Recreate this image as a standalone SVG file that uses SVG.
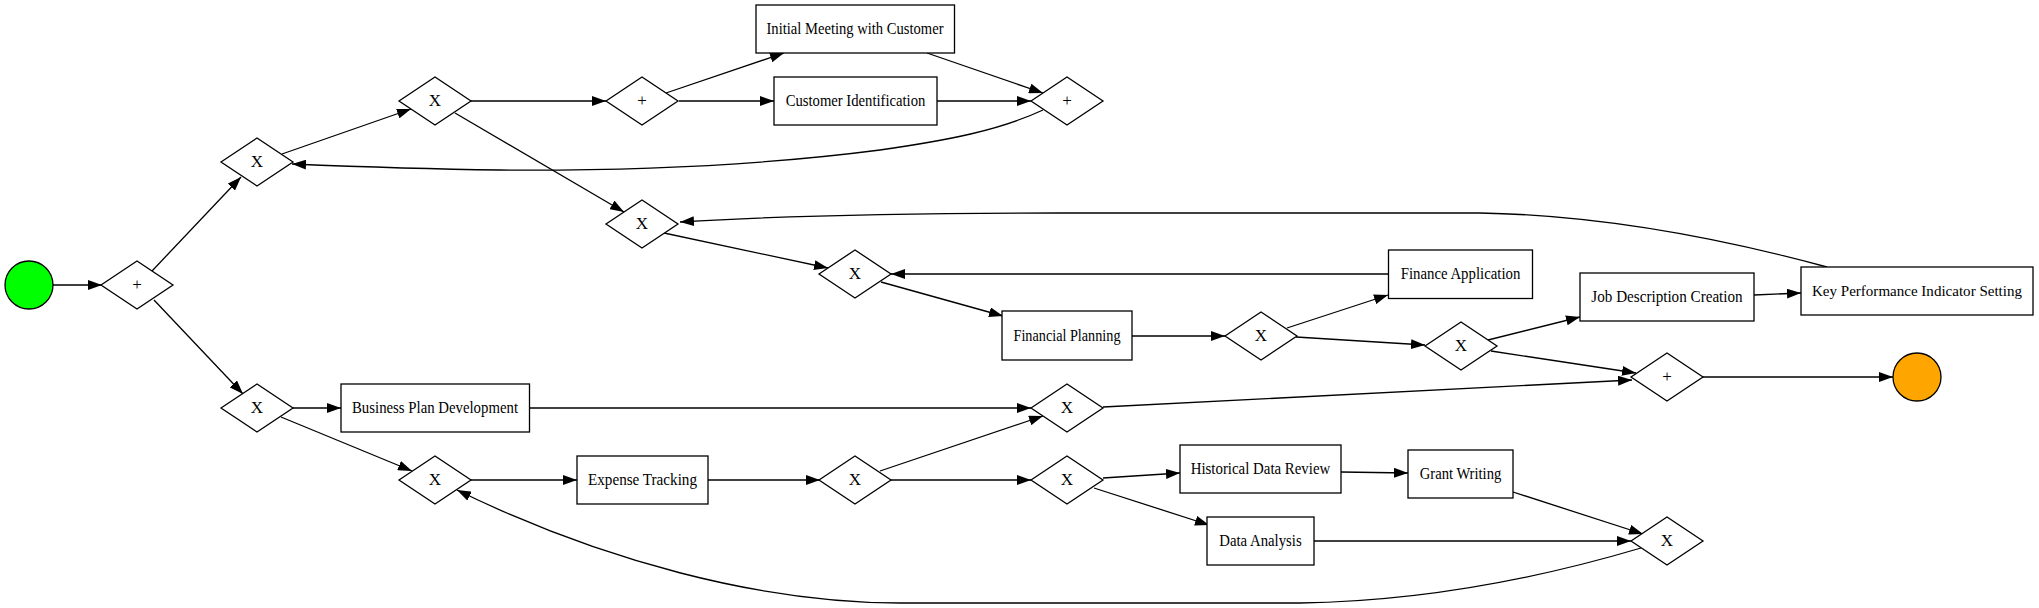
<svg xmlns="http://www.w3.org/2000/svg" width="2039" height="608" viewBox="0 0 2039 608">
<defs>
<marker id="ah" markerUnits="userSpaceOnUse" markerWidth="14" markerHeight="10" refX="14" refY="5" orient="auto">
<path d="M0,0 L14,5 L0,10 z" fill="#000"/>
</marker>
</defs>
<style>
.e{fill:none;stroke:#000;stroke-width:1.3;marker-end:url(#ah)}
.t{fill:#fff;stroke:#000;stroke-width:1.3}
.g{fill:#fff;stroke:#000;stroke-width:1.3}
text{font-family:"Liberation Serif","Times New Roman",serif;font-size:17px;fill:#000;text-anchor:middle}
.gl{font-size:17px}
.sm{font-size:15.5px}
</style>
<rect width="2039" height="608" fill="#fff"/>
<g id="connectors">
<path class="e" d="M53,285 L102,285"/>
<path class="e" d="M152,271 L241,177"/>
<path class="e" d="M154,300 L243,394"/>
<path class="e" d="M282,154 L411,109"/>
<path class="e" d="M471,101 L606,101"/>
<path class="e" d="M455,113 L624,212"/>
<path class="e" d="M666,93 L784,53"/>
<path class="e" d="M679,101 L774,101"/>
<path class="e" d="M927,53 L1043,93"/>
<path class="e" d="M937,101 L1031,101"/>
<path class="e" d="M1043,110 C1000,130 950,140 880,150 C780,163 650,171 500,170 C420,169 340,166 292,164"/>
<path class="e" d="M664,233 L828,268"/>
<path class="e" d="M1827,267 C1720,238 1600,215 1480,213 L1060,213 C900,213 760,217 680,222"/>
<path class="e" d="M881,282 L1003,316"/>
<path class="e" d="M1388,274 L891,274"/>
<path class="e" d="M1132,336 L1225,336"/>
<path class="e" d="M1287,328 L1388,295"/>
<path class="e" d="M1296,337 L1425,345"/>
<path class="e" d="M1488,340 L1580,317"/>
<path class="e" d="M1754,295 L1801,293"/>
<path class="e" d="M1491,351 L1636,373"/>
<path class="e" d="M1103,407 L1632,380"/>
<path class="e" d="M1703,377 L1893,377"/>
<path class="e" d="M293,408 L341,408"/>
<path class="e" d="M281,417 L412,471"/>
<path class="e" d="M529,408 L1031,408"/>
<path class="e" d="M471,480 L577,480"/>
<path class="e" d="M708,480 L820,480"/>
<path class="e" d="M880,471 L1043,416"/>
<path class="e" d="M891,480 L1031,480"/>
<path class="e" d="M1103,478 L1180,473"/>
<path class="e" d="M1094,488 L1209,525"/>
<path class="e" d="M1341,472 L1408,473"/>
<path class="e" d="M1513,492 L1643,534"/>
<path class="e" d="M1314,541 L1631,541"/>
<path class="e" d="M1641,548 C1560,572 1440,601 1300,603 L900,603 C760,603 600,560 457,490"/>
</g>
<g id="start"><circle cx="29" cy="285" r="24" fill="#00ff00" stroke="#000" stroke-width="1.3"/></g>
<g id="P1"><polygon class="g" points="101,285 137,261 173,285 137,309"/><text class="gl" x="137" y="290">+</text></g>
<g id="G2"><polygon class="g" points="221,162 257,138 293,162 257,186"/><text class="gl" x="257" y="167">X</text></g>
<g id="G3"><polygon class="g" points="399,101 435,77 471,101 435,125"/><text class="gl" x="435" y="106">X</text></g>
<g id="P2"><polygon class="g" points="606,101 642,77 678,101 642,125"/><text class="gl" x="642" y="106">+</text></g>
<g id="G4"><polygon class="g" points="606,224 642,200 678,224 642,248"/><text class="gl" x="642" y="229">X</text></g>
<g id="initialMeeting"><rect class="t" x="756" y="5" width="198.5" height="48"/><text x="855" y="34" textLength="177" lengthAdjust="spacingAndGlyphs">Initial Meeting with Customer</text></g>
<g id="customerIdentification"><rect class="t" x="774" y="77" width="163" height="48"/><text x="855.5" y="106" textLength="139.6" lengthAdjust="spacingAndGlyphs">Customer Identification</text></g>
<g id="P3"><polygon class="g" points="1031,101 1067,77 1103,101 1067,125"/><text class="gl" x="1067" y="106">+</text></g>
<g id="G5"><polygon class="g" points="819,274 855,250 891,274 855,298"/><text class="gl" x="855" y="279">X</text></g>
<g id="financeApplication"><rect class="t" x="1388.5" y="250" width="144" height="48.5"/><text x="1460.5" y="279" textLength="119.7" lengthAdjust="spacingAndGlyphs">Finance Application</text></g>
<g id="financialPlanning"><rect class="t" x="1002" y="311" width="130" height="49"/><text x="1067" y="340.5" textLength="107" lengthAdjust="spacingAndGlyphs">Financial Planning</text></g>
<g id="G8"><polygon class="g" points="1225,336 1261,312 1297,336 1261,360"/><text class="gl" x="1261" y="341">X</text></g>
<g id="jobDescription"><rect class="t" x="1580" y="273" width="174" height="48"/><text x="1667" y="302" textLength="151.3" lengthAdjust="spacingAndGlyphs">Job Description Creation</text></g>
<g id="kpiSetting"><rect class="t" x="1801" y="267" width="232" height="48"/><text class="sm" x="1917" y="296" textLength="210" lengthAdjust="spacingAndGlyphs">Key Performance Indicator Setting</text></g>
<g id="G12"><polygon class="g" points="1425,346 1461,322 1497,346 1461,370"/><text class="gl" x="1461" y="351">X</text></g>
<g id="P4"><polygon class="g" points="1631,377 1667,353 1703,377 1667,401"/><text class="gl" x="1667" y="382">+</text></g>
<g id="end"><circle cx="1917" cy="377" r="24" fill="#ffa500" stroke="#000" stroke-width="1.3"/></g>
<g id="G6"><polygon class="g" points="221,408 257,384 293,408 257,432"/><text class="gl" x="257" y="413">X</text></g>
<g id="businessPlan"><rect class="t" x="341" y="384" width="188.5" height="48"/><text x="435" y="413" textLength="166" lengthAdjust="spacingAndGlyphs">Business Plan Development</text></g>
<g id="G7"><polygon class="g" points="399,480 435,456 471,480 435,504"/><text class="gl" x="435" y="485">X</text></g>
<g id="expenseTracking"><rect class="t" x="577" y="456" width="131" height="48"/><text x="642.5" y="485" textLength="109" lengthAdjust="spacingAndGlyphs">Expense Tracking</text></g>
<g id="G9"><polygon class="g" points="1031,408 1067,384 1103,408 1067,432"/><text class="gl" x="1067" y="413">X</text></g>
<g id="G10"><polygon class="g" points="819,480 855,456 891,480 855,504"/><text class="gl" x="855" y="485">X</text></g>
<g id="G11"><polygon class="g" points="1031,480 1067,456 1103,480 1067,504"/><text class="gl" x="1067" y="485">X</text></g>
<g id="historicalDataReview"><rect class="t" x="1180" y="445" width="161" height="48"/><text x="1260.5" y="474" textLength="139.6" lengthAdjust="spacingAndGlyphs">Historical Data Review</text></g>
<g id="dataAnalysis"><rect class="t" x="1207" y="517" width="107" height="48"/><text x="1260.5" y="546" textLength="82.4" lengthAdjust="spacingAndGlyphs">Data Analysis</text></g>
<g id="grantWriting"><rect class="t" x="1408" y="450" width="105" height="48"/><text x="1460.5" y="479" textLength="81.5" lengthAdjust="spacingAndGlyphs">Grant Writing</text></g>
<g id="G13"><polygon class="g" points="1631,541 1667,517 1703,541 1667,565"/><text class="gl" x="1667" y="546">X</text></g>
</svg>
